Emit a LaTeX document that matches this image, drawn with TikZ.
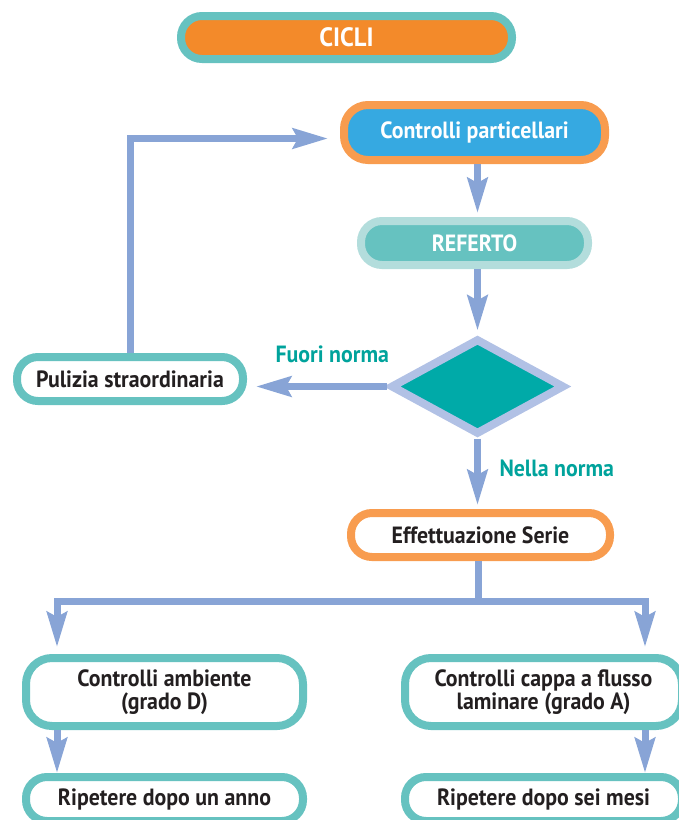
\documentclass[tikz,border=0pt]{standalone}
\usepackage{fontspec}
\setmainfont{PT Sans}[FakeStretch=0.93]
\usetikzlibrary{arrows.meta,shapes.geometric}
\definecolor{flow}{HTML}{88A4D6}
\definecolor{teal}{HTML}{66C2C0}
\definecolor{amber}{HTML}{F89C4F}
\definecolor{tang}{HTML}{F38A2A}
\definecolor{sky}{HTML}{36A9E1}
\definecolor{pale}{HTML}{B3DDDC}
\definecolor{lilac}{HTML}{B1C1E5}
\definecolor{jade}{HTML}{00AAA8}
\definecolor{note}{HTML}{00A39C}
\definecolor{ink}{HTML}{231F20}

\begin{document}
\begin{tikzpicture}[x=1pt,y=-1pt,
      pill/.style={rectangle,rounded corners=21pt,line width=8pt,draw=teal,fill=white,
                   font=\bfseries\fontsize{23.5}{23}\selectfont,text=ink,align=center,inner sep=0pt},
      arr/.style={line width=7pt,draw=flow,-{Stealth[length=35pt,width=20pt,inset=5pt]}},
      lbl/.style={font=\bfseries\fontsize{23.5}{23}\selectfont,text=note,anchor=base west}]
    \useasboundingbox (0,0) rectangle (679,820);
    \clip (0,0) rectangle (679,820);
    \node[pill,fill=tang,text=white,font=\bfseries\fontsize{26.5}{27}\selectfont,
          minimum width=331pt,minimum height=43pt](cicli) at (346.5,37.5){CICLI};
    \node[pill,draw=amber,fill=sky,text=white,minimum width=261pt,minimum height=55pt,
          rounded corners=24pt](cp) at (474.5,132.5){Controlli particellari};
    \node[pill,draw=pale,fill=teal,text=white,minimum width=227pt,minimum height=44pt](ref) at (474.5,243){REFERTO};
    \node[diamond,draw=lilac,fill=jade,line width=8pt,inner sep=0pt,
          minimum width=174pt,minimum height=96pt](dia) at (477.5,386.5){};
    \node[pill,minimum width=226pt,minimum height=44pt](pul) at (130,379){Pulizia straordinaria};
    \node[pill,draw=amber,minimum width=259pt,minimum height=44pt](eff) at (480.5,535){Effettuazione Serie};
    \node[pill,minimum width=277pt,minimum height=68pt,rounded corners=26pt](ca) at (164.5,692){Controlli ambiente\\(grado D)};
    \node[pill,minimum width=277pt,minimum height=68pt,rounded corners=26pt](cc) at (543.5,692){Controlli cappa a flusso\\laminare (grado A)};
    \node[pill,minimum width=277pt,minimum height=44pt](ra) at (164.5,799){Ripetere dopo un anno};
    \node[pill,minimum width=277pt,minimum height=44pt](rs) at (543.5,799){Ripetere dopo sei mesi};
    \node[lbl](fuori) at (272,362){Fuori norma};
    \node[lbl](nella) at (496,476){Nella norma};
    % loop back and main line
    \coordinate (cpin) at (328,138.5);
    \draw[arr](pul.north) |- (cpin);
    \draw[arr]([xshift=3pt]cp.south) -- ([xshift=3pt,yshift=4pt]ref.north);
    \draw[arr]([xshift=3pt]ref.south) -- ([yshift=4pt]dia.north);
    \draw[arr,shorten >=9pt](dia.west) -- (dia.west -| pul.east);
    \draw[arr](dia.south) -- ([xshift=-3pt,yshift=4pt]eff.north);
    % split into the two branches
    \coordinate (fork) at (478,601);
    \coordinate (cain) at (57,647);
    \coordinate (ccin) at (645,647);
    \draw[line width=7pt,draw=flow]([xshift=-2.5pt]eff.south) -- (fork);
    \draw[arr](fork) -| (cain);
    \draw[arr](fork) -| (ccin);
    \draw[arr](ca.south -| cain) -- (ra.north -| cain);
    \draw[arr](cc.south -| ccin) -- (rs.north -| ccin);
\end{tikzpicture}
\end{document}
